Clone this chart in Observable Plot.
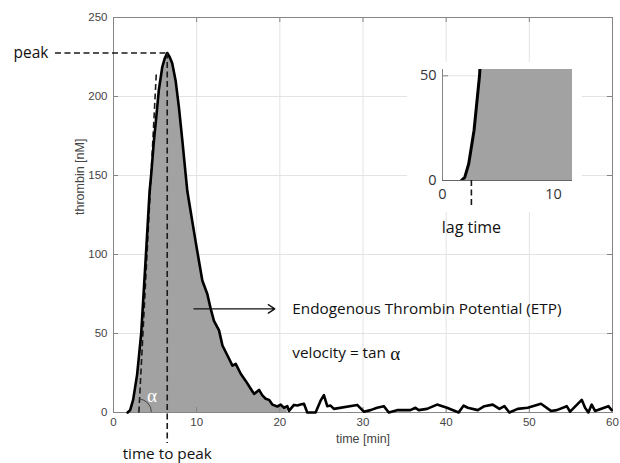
<!DOCTYPE html>
<html><head><meta charset="utf-8">
<script src="https://cdn.jsdelivr.net/npm/d3@7"></script>
<script src="https://cdn.jsdelivr.net/npm/@observablehq/plot@0.6"></script>
<style>
body{margin:0;background:#fff;}
#wrap{position:relative;width:620px;height:463px;overflow:hidden;}
#main{position:absolute;left:0;top:0;}
#inset{position:absolute;left:407px;top:62px;}
svg{overflow:visible;}
</style></head><body><div id="wrap"><div id="main"></div><div id="inset"></div></div>
<script>
// time [min]
const time = [1.7, 2.0, 2.36, 2.84, 3.33, 3.9, 4.34, 4.54, 4.86, 5.18, 5.45, 5.86, 6.15, 6.46, 6.75, 7.06, 7.47, 7.87, 8.28, 8.67, 8.88, 9.88, 10.68, 11.28, 11.69, 12.08, 12.69, 13.1, 13.9, 14.3, 14.7, 15.3, 15.9, 16.5, 16.9, 17.5, 17.9, 18.3, 18.7, 19.1, 19.7, 20.1, 20.5, 20.9, 21.1, 21.7, 22.1, 22.5, 22.9, 23.3, 24.3, 24.9, 25.3, 25.7, 26.1, 26.5, 29.3, 30.1, 30.9, 31.7, 32.5, 33.1, 34.1, 35.7, 36.3, 36.7, 37.7, 38.9, 40.1, 41.5, 42.1, 42.6, 43.8, 44.6, 45.6, 46.4, 47.0, 47.6, 48.6, 49.8, 51.4, 52.6, 53.3, 54.5, 54.9, 56.3, 56.7, 57.1, 57.5, 57.9, 59.5, 59.9];
// thrombin [nM]
const thrombin = [0, 1.5, 8, 24, 50, 100, 140, 151, 172, 189, 204, 218.5, 224, 227.5, 225, 221, 210, 193, 172, 151, 140, 108, 83.5, 75, 65.6, 58, 52, 42.4, 34, 29.7, 30.8, 24.5, 20, 15, 11.8, 14.3, 10.8, 8.7, 8, 5, 3.8, 5, 3, 4, 1, 4.8, 4.4, 5, 5.5, 0, 0, 7.5, 11, 4, 4.4, 2.3, 4.8, 0.5, 1.5, 3, 4, 0, 1.5, 1.5, 3, 1.5, 2.3, 5, 3, 0, 4.4, 3, 1.5, 4, 5, 2.3, 4, 0, 2.3, 3, 5.5, 1, 1.5, 4, 0.5, 8, 3, 0, 5, 1, 4, 1.5];

const xTicks = [0, 10, 20, 30, 40, 50, 60];
const yTicks = [0, 50, 100, 150, 200, 250];
const insetXTicks = [0, 10];
const insetYTicks = [0, 50];

const etpEnd = 20.9;         // end of shaded ETP area [min]
const lagTime = 2.6;         // [min]
const tangentStart = 3.05;   // tangent foot [min]
const tangentEnd = 5.15;     // [min]
const tangentTop = 215;      // [nM]
const arrowStart = 9.67, arrowEnd = 19.4, arrowLevel = 65.6;
const labelTime = 21.5, etpLabelLevel = 65.6, velocityLevel = 37.3;

const etpText = "Endogenous Thrombin Potential (ETP)";
const velocityText = "velocity = tan";
const alphaText = "\u03b1";

const data = time.map((t, i) => ({t, v: thrombin[i]}));
const etp = data.filter(d => d.t <= etpEnd);
const peak = data.reduce((a, b) => (b.v > a.v ? b : a));

const dash = {stroke: "#1a1a1a", strokeWidth: 1.6, strokeDasharray: "6,3.5"};
const annFont = "'Open Sans', 'Noto Sans', sans-serif";
const serif = "'Liberation Serif', 'DejaVu Serif', serif";

function angleArc(index, scales) {
  const cx = scales.x(tangentStart), cy = scales.y(0);
  const ex = scales.x(tangentEnd), ey = scales.y(tangentTop);
  const ang = Math.atan2(ey - cy, ex - cx);
  const r = 13;
  const d = `M${cx + r},${cy} A${r},${r} 0 0 0 ${cx + r * Math.cos(ang)},${cy + r * Math.sin(ang)}`;
  return d3.create("svg:path").attr("d", d).attr("fill", "none")
    .attr("stroke", "#444").attr("stroke-width", 1).node();
}

const main = Plot.plot({
  width: 620, height: 463,
  marginLeft: 113, marginRight: 8, marginTop: 17, marginBottom: 51,
  style: {fontFamily: "'Liberation Sans', Arial, sans-serif", fontSize: "11.5px", color: "#444", background: "white", overflow: "visible"},
  x: {domain: [0, 60], label: null},
  y: {domain: [0, 250], label: null},
  marks: [
    Plot.gridX(xTicks, {stroke: "#e3e3e3", strokeOpacity: 1}),
    Plot.gridY(yTicks, {stroke: "#e3e3e3", strokeOpacity: 1}),
    Plot.areaY(etp, {x: "t", y: "v", fill: "#a2a2a2"}),
    Plot.frame({stroke: "#858585"}),
    Plot.tickX(xTicks, {x: d => d, insetTop: 390, stroke: "#858585"}),
    Plot.tickX(xTicks, {x: d => d, insetBottom: 390, stroke: "#858585"}),
    Plot.tickY(yTicks, {y: d => d, insetRight: 494, stroke: "#858585"}),
    Plot.tickY(yTicks, {y: d => d, insetLeft: 494, stroke: "#858585"}),
    Plot.axisX(xTicks, {tickSize: 0, tickPadding: 5, fill: "#444"}),
    Plot.axisY(yTicks, {tickSize: 0, tickPadding: 6, fill: "#444"}),
    Plot.text(["time [min]"], {frameAnchor: "bottom", lineAnchor: "middle", dy: 26, fontSize: 12.5, fill: "#444"}),
    Plot.text(["thrombin [nM]"], {frameAnchor: "left", lineAnchor: "middle", rotate: -90, dx: -34, fontSize: 12.5, fill: "#444"}),
    Plot.link([0], {x1: tangentStart, y1: 0, x2: tangentEnd, y2: tangentTop, ...dash}),
    Plot.lineY(data, {x: "t", y: "v", stroke: "black", strokeWidth: 2.6}),
    Plot.ruleY([peak], {x1: 0, x2: "t", y: "v", insetLeft: -58, ...dash}),
    Plot.ruleX([peak], {x: "t", y1: "v", y2: 0, insetBottom: -31, ...dash}),
    angleArc,
    Plot.text([alphaText], {x: tangentStart, y: 0, dx: 13, dy: -17, fill: "white", fontSize: 19, fontFamily: serif}),
    Plot.text(["peak"], {x: 0, y: peak.v, dx: -100, textAnchor: "start", fontSize: 15.5, fontFamily: annFont, fill: "#111"}),
    Plot.text(["time to peak"], {x: peak.t, y: 0, dy: 42, fontSize: 15.3, fontFamily: annFont, fill: "#111"}),
    Plot.arrow([0], {x1: arrowStart, x2: arrowEnd, y1: arrowLevel, y2: arrowLevel, stroke: "#111", strokeWidth: 1.3, headLength: 9, headAngle: 66}),
    Plot.text([etpText], {x: labelTime, y: etpLabelLevel, textAnchor: "start", fontSize: 15.3, fontFamily: annFont, fill: "#111"}),
    Plot.text([velocityText], {x: labelTime, y: velocityLevel, textAnchor: "start", fontSize: 15.3, fontFamily: annFont, fill: "#111"}),
    Plot.text([alphaText], {x: labelTime, y: velocityLevel, dx: 98, textAnchor: "start", fontSize: 19, fontFamily: serif, fill: "#111"})
  ]
});
document.getElementById("main").append(main);

const inset = Plot.plot({
  width: 175, height: 150,
  marginLeft: 35, marginRight: 10, marginTop: 7, marginBottom: 32,
  style: {fontFamily: annFont, fontSize: "14.5px", color: "#333", background: "white", overflow: "visible"},
  x: {domain: [0, 11.7], label: null},
  y: {domain: [0, 53], label: null},
  marks: [
    Plot.gridY([50], {stroke: "#e3e3e3", strokeOpacity: 1}),
    Plot.areaY(etp, {x: "t", y: "v", fill: "#a2a2a2", clip: true}),
    Plot.ruleX([0], {stroke: "#858585"}),
    Plot.ruleY([0], {stroke: "#666"}),
    Plot.tickY([50], {y: d => d, insetRight: 124, stroke: "#858585"}),
    Plot.axisX(insetXTicks, {tickSize: 0, tickPadding: 8, fill: "#333"}),
    Plot.axisY(insetYTicks, {tickSize: 0, tickPadding: 6, fill: "#333"}),
    Plot.lineY(data, {x: "t", y: "v", stroke: "black", strokeWidth: 3, clip: true}),
    Plot.ruleX([lagTime], {x: d => d, y1: 0, y2: 0, insetBottom: -28, ...dash}),
    Plot.text(["lag time"], {x: lagTime, y: 0, dy: 47, fontSize: 16, fill: "#111"})
  ]
});
document.getElementById("inset").append(inset);
</script></body></html>
